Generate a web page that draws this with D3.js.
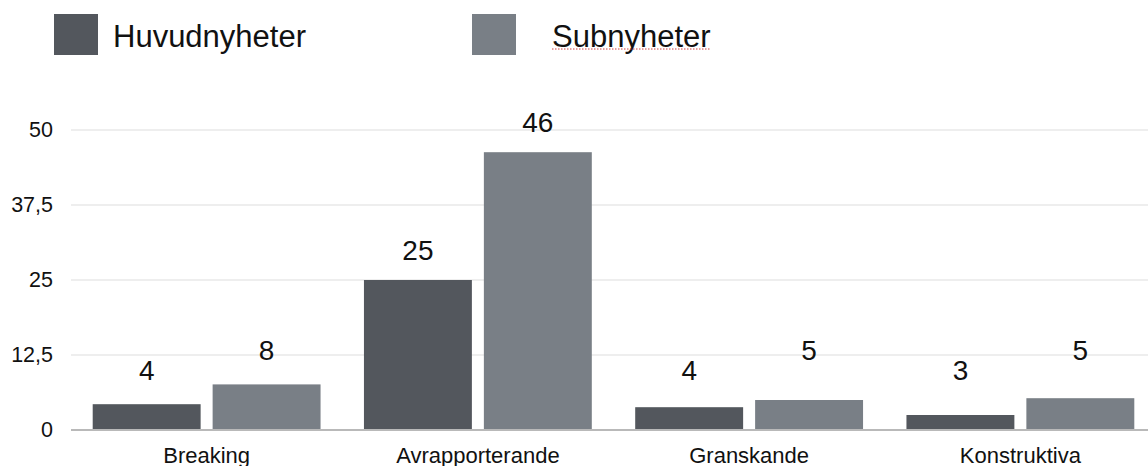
<!DOCTYPE html>
<html>
<head>
<meta charset="utf-8">
<script src="https://cdn.jsdelivr.net/npm/d3@7"></script>
<style>
  html, body { margin: 0; padding: 0; background: #fff; }
  svg { display: block; font-family: "Liberation Sans", Arial, Helvetica, sans-serif; }
</style>
</head>
<body>
<svg id="chart" width="1148" height="466"></svg>
<script>
const categories = ["Breaking", "Avrapporterande", "Granskande", "Konstruktiva"];
const seriesNames = ["Huvudnyheter", "Subnyheter"];
const huvudnyheter = [4.3, 25, 3.8, 2.5];
const subnyheter = [7.6, 46.3, 5.0, 5.3];
const tickValues = [0, 12.5, 25, 37.5, 50];
const tickLabels = ["0", "12,5", "25", "37,5", "50"];
const colors = ["#53575d", "#797f86"];

const seriesValues = [huvudnyheter, subnyheter];
const rows = [];
categories.forEach((c, i) => {
  seriesNames.forEach((s, j) => rows.push({ cat: c, series: s, si: j, value: seriesValues[j][i] }));
});

const svg = d3.select("#chart");
const W = 1148;

const y = d3.scaleLinear().domain([0, 50]).range([430, 130]);
const x0 = d3.scaleBand().domain(categories).range([71, 1156]).paddingInner(0.16).paddingOuter(0.08);
const x1 = d3.scaleBand().domain(seriesNames).range([0, x0.bandwidth()]).paddingInner(0.1);

// gridlines
svg.append("g").selectAll("line").data(tickValues.filter(v => v !== 0)).join("line")
  .attr("x1", 71).attr("x2", W)
  .attr("y1", d => y(d)).attr("y2", d => y(d))
  .attr("stroke", "#dedede").attr("stroke-width", 1.2);

// y-axis labels
const yAxis = d3.axisLeft(y).tickValues(tickValues).tickFormat((d, i) => tickLabels[i]).tickSize(0).tickPadding(0);
const yg = svg.append("g").attr("transform", "translate(53,0)").call(yAxis);
yg.select(".domain").remove();
yg.selectAll("text").attr("font-size", "21.5px").attr("fill", "#111").attr("font-family", "Liberation Sans, Arial, sans-serif");

// bars
svg.append("g").selectAll("rect").data(rows).join("rect")
  .attr("x", d => x0(d.cat) + x1(d.series))
  .attr("width", x1.bandwidth())
  .attr("y", d => y(d.value))
  .attr("height", d => y(0) - y(d.value))
  .attr("fill", d => colors[d.si]);

// baseline
svg.append("line").attr("x1", 71).attr("x2", W).attr("y1", y(0)).attr("y2", y(0))
  .attr("stroke", "#b9b9b9").attr("stroke-width", 2);

// value labels
const labelFloor = [50, 70];
svg.append("g").selectAll("text").data(rows).join("text")
  .attr("x", d => x0(d.cat) + x1(d.series) + x1.bandwidth() / 2)
  .attr("y", d => Math.min(y(d.value) - 20, y(0) - labelFloor[d.si]))
  .attr("text-anchor", "middle")
  .attr("font-size", "28px").attr("fill", "#111")
  .text(d => Math.round(d.value));

// x-axis category labels
const xAxis = d3.axisBottom(x0).tickSize(0).tickPadding(0);
const xg = svg.append("g").attr("transform", "translate(0,446)").call(xAxis);
xg.select(".domain").remove();
xg.selectAll("text").attr("font-size", "22px").attr("fill", "#111").attr("dy", "0.75em")
  .attr("font-family", "Liberation Sans, Arial, sans-serif");

// legend
const legendX = [54, 472];
const legend = svg.append("g").selectAll("g").data(seriesNames).join("g")
  .attr("transform", (d, i) => `translate(${legendX[i]},14)`);
legend.append("rect").attr("width", 44).attr("height", 41).attr("fill", (d, i) => colors[i]);
legend.append("text").attr("x", (d, i) => i === 0 ? 59 : 80).attr("y", 33)
  .attr("font-size", "31px").attr("fill", "#111").text(d => d);
// spell-check style underline under second legend label
legend.filter((d, i) => i === 1).each(function() {
  const t = d3.select(this).select("text").node();
  const bb = t.getBBox();
  d3.select(this).append("line")
    .attr("x1", bb.x).attr("x2", bb.x + bb.width).attr("y1", 35).attr("y2", 35)
    .attr("stroke", "#d04040").attr("stroke-width", 1).attr("stroke-dasharray", "1.5,1.5");
});
</script>
</body>
</html>
